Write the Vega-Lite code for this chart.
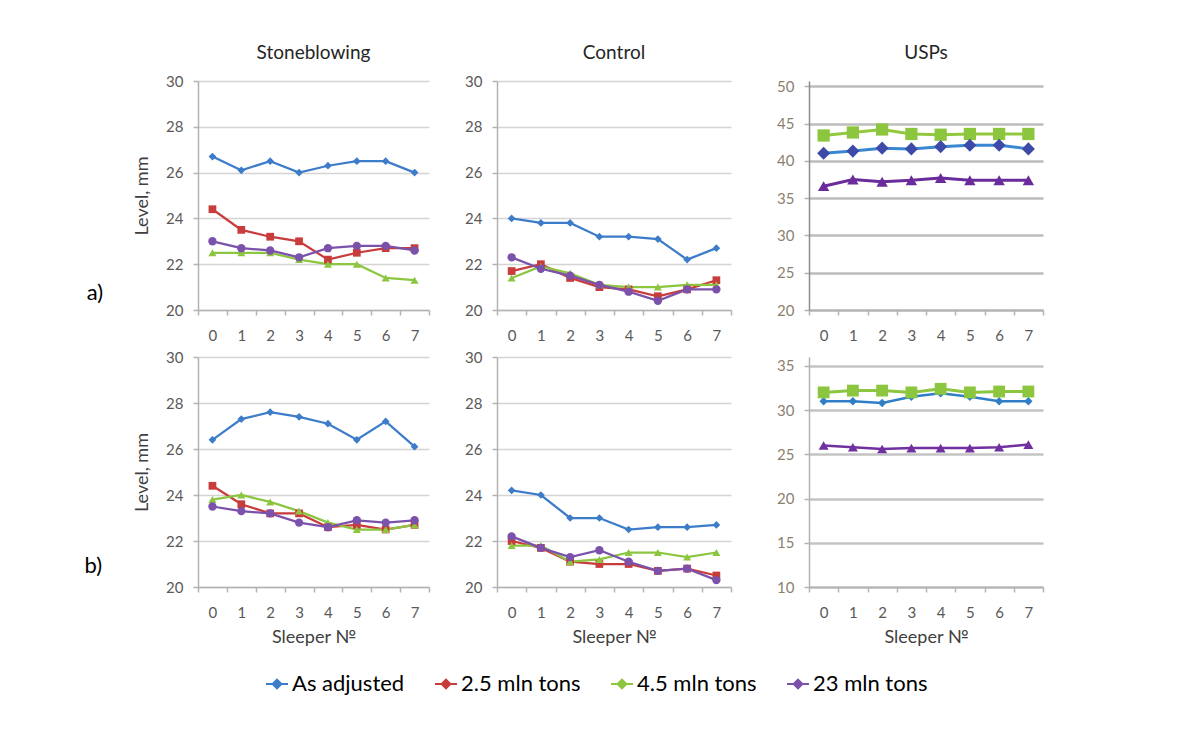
{
  "$schema": "https://vega.github.io/schema/vega-lite/v6.json",
  "padding": {"left": 84, "top": 44, "right": 10, "bottom": 10},
  "background": "white",
  "data": {"values": [
    {"row":"a","panel":"Stoneblowing","series":"As adjusted","sleeper":0,"level":26.7},
    {"row":"a","panel":"Stoneblowing","series":"As adjusted","sleeper":1,"level":26.1},
    {"row":"a","panel":"Stoneblowing","series":"As adjusted","sleeper":2,"level":26.5},
    {"row":"a","panel":"Stoneblowing","series":"As adjusted","sleeper":3,"level":26.0},
    {"row":"a","panel":"Stoneblowing","series":"As adjusted","sleeper":4,"level":26.3},
    {"row":"a","panel":"Stoneblowing","series":"As adjusted","sleeper":5,"level":26.5},
    {"row":"a","panel":"Stoneblowing","series":"As adjusted","sleeper":6,"level":26.5},
    {"row":"a","panel":"Stoneblowing","series":"As adjusted","sleeper":7,"level":26.0},
    {"row":"a","panel":"Stoneblowing","series":"2.5 mln tons","sleeper":0,"level":24.4},
    {"row":"a","panel":"Stoneblowing","series":"2.5 mln tons","sleeper":1,"level":23.5},
    {"row":"a","panel":"Stoneblowing","series":"2.5 mln tons","sleeper":2,"level":23.2},
    {"row":"a","panel":"Stoneblowing","series":"2.5 mln tons","sleeper":3,"level":23.0},
    {"row":"a","panel":"Stoneblowing","series":"2.5 mln tons","sleeper":4,"level":22.2},
    {"row":"a","panel":"Stoneblowing","series":"2.5 mln tons","sleeper":5,"level":22.5},
    {"row":"a","panel":"Stoneblowing","series":"2.5 mln tons","sleeper":6,"level":22.7},
    {"row":"a","panel":"Stoneblowing","series":"2.5 mln tons","sleeper":7,"level":22.7},
    {"row":"a","panel":"Stoneblowing","series":"4.5 mln tons","sleeper":0,"level":22.5},
    {"row":"a","panel":"Stoneblowing","series":"4.5 mln tons","sleeper":1,"level":22.5},
    {"row":"a","panel":"Stoneblowing","series":"4.5 mln tons","sleeper":2,"level":22.5},
    {"row":"a","panel":"Stoneblowing","series":"4.5 mln tons","sleeper":3,"level":22.2},
    {"row":"a","panel":"Stoneblowing","series":"4.5 mln tons","sleeper":4,"level":22.0},
    {"row":"a","panel":"Stoneblowing","series":"4.5 mln tons","sleeper":5,"level":22.0},
    {"row":"a","panel":"Stoneblowing","series":"4.5 mln tons","sleeper":6,"level":21.4},
    {"row":"a","panel":"Stoneblowing","series":"4.5 mln tons","sleeper":7,"level":21.3},
    {"row":"a","panel":"Stoneblowing","series":"23 mln tons","sleeper":0,"level":23.0},
    {"row":"a","panel":"Stoneblowing","series":"23 mln tons","sleeper":1,"level":22.7},
    {"row":"a","panel":"Stoneblowing","series":"23 mln tons","sleeper":2,"level":22.6},
    {"row":"a","panel":"Stoneblowing","series":"23 mln tons","sleeper":3,"level":22.3},
    {"row":"a","panel":"Stoneblowing","series":"23 mln tons","sleeper":4,"level":22.7},
    {"row":"a","panel":"Stoneblowing","series":"23 mln tons","sleeper":5,"level":22.8},
    {"row":"a","panel":"Stoneblowing","series":"23 mln tons","sleeper":6,"level":22.8},
    {"row":"a","panel":"Stoneblowing","series":"23 mln tons","sleeper":7,"level":22.6},

    {"row":"a","panel":"Control","series":"As adjusted","sleeper":0,"level":24.0},
    {"row":"a","panel":"Control","series":"As adjusted","sleeper":1,"level":23.8},
    {"row":"a","panel":"Control","series":"As adjusted","sleeper":2,"level":23.8},
    {"row":"a","panel":"Control","series":"As adjusted","sleeper":3,"level":23.2},
    {"row":"a","panel":"Control","series":"As adjusted","sleeper":4,"level":23.2},
    {"row":"a","panel":"Control","series":"As adjusted","sleeper":5,"level":23.1},
    {"row":"a","panel":"Control","series":"As adjusted","sleeper":6,"level":22.2},
    {"row":"a","panel":"Control","series":"As adjusted","sleeper":7,"level":22.7},
    {"row":"a","panel":"Control","series":"2.5 mln tons","sleeper":0,"level":21.7},
    {"row":"a","panel":"Control","series":"2.5 mln tons","sleeper":1,"level":22.0},
    {"row":"a","panel":"Control","series":"2.5 mln tons","sleeper":2,"level":21.4},
    {"row":"a","panel":"Control","series":"2.5 mln tons","sleeper":3,"level":21.0},
    {"row":"a","panel":"Control","series":"2.5 mln tons","sleeper":4,"level":20.9},
    {"row":"a","panel":"Control","series":"2.5 mln tons","sleeper":5,"level":20.6},
    {"row":"a","panel":"Control","series":"2.5 mln tons","sleeper":6,"level":20.9},
    {"row":"a","panel":"Control","series":"2.5 mln tons","sleeper":7,"level":21.3},
    {"row":"a","panel":"Control","series":"4.5 mln tons","sleeper":0,"level":21.4},
    {"row":"a","panel":"Control","series":"4.5 mln tons","sleeper":1,"level":21.9},
    {"row":"a","panel":"Control","series":"4.5 mln tons","sleeper":2,"level":21.6},
    {"row":"a","panel":"Control","series":"4.5 mln tons","sleeper":3,"level":21.1},
    {"row":"a","panel":"Control","series":"4.5 mln tons","sleeper":4,"level":21.0},
    {"row":"a","panel":"Control","series":"4.5 mln tons","sleeper":5,"level":21.0},
    {"row":"a","panel":"Control","series":"4.5 mln tons","sleeper":6,"level":21.1},
    {"row":"a","panel":"Control","series":"4.5 mln tons","sleeper":7,"level":21.1},
    {"row":"a","panel":"Control","series":"23 mln tons","sleeper":0,"level":22.3},
    {"row":"a","panel":"Control","series":"23 mln tons","sleeper":1,"level":21.8},
    {"row":"a","panel":"Control","series":"23 mln tons","sleeper":2,"level":21.5},
    {"row":"a","panel":"Control","series":"23 mln tons","sleeper":3,"level":21.1},
    {"row":"a","panel":"Control","series":"23 mln tons","sleeper":4,"level":20.8},
    {"row":"a","panel":"Control","series":"23 mln tons","sleeper":5,"level":20.4},
    {"row":"a","panel":"Control","series":"23 mln tons","sleeper":6,"level":20.9},
    {"row":"a","panel":"Control","series":"23 mln tons","sleeper":7,"level":20.9},

    {"row":"a","panel":"USPs","series":"4.5 mln tons","sleeper":0,"level":43.4},
    {"row":"a","panel":"USPs","series":"4.5 mln tons","sleeper":1,"level":43.8},
    {"row":"a","panel":"USPs","series":"4.5 mln tons","sleeper":2,"level":44.2},
    {"row":"a","panel":"USPs","series":"4.5 mln tons","sleeper":3,"level":43.6},
    {"row":"a","panel":"USPs","series":"4.5 mln tons","sleeper":4,"level":43.5},
    {"row":"a","panel":"USPs","series":"4.5 mln tons","sleeper":5,"level":43.6},
    {"row":"a","panel":"USPs","series":"4.5 mln tons","sleeper":6,"level":43.6},
    {"row":"a","panel":"USPs","series":"4.5 mln tons","sleeper":7,"level":43.6},
    {"row":"a","panel":"USPs","series":"As adjusted","sleeper":0,"level":41.0},
    {"row":"a","panel":"USPs","series":"As adjusted","sleeper":1,"level":41.3},
    {"row":"a","panel":"USPs","series":"As adjusted","sleeper":2,"level":41.7},
    {"row":"a","panel":"USPs","series":"As adjusted","sleeper":3,"level":41.6},
    {"row":"a","panel":"USPs","series":"As adjusted","sleeper":4,"level":41.9},
    {"row":"a","panel":"USPs","series":"As adjusted","sleeper":5,"level":42.1},
    {"row":"a","panel":"USPs","series":"As adjusted","sleeper":6,"level":42.1},
    {"row":"a","panel":"USPs","series":"As adjusted","sleeper":7,"level":41.6},
    {"row":"a","panel":"USPs","series":"23 mln tons","sleeper":0,"level":36.6},
    {"row":"a","panel":"USPs","series":"23 mln tons","sleeper":1,"level":37.5},
    {"row":"a","panel":"USPs","series":"23 mln tons","sleeper":2,"level":37.2},
    {"row":"a","panel":"USPs","series":"23 mln tons","sleeper":3,"level":37.4},
    {"row":"a","panel":"USPs","series":"23 mln tons","sleeper":4,"level":37.7},
    {"row":"a","panel":"USPs","series":"23 mln tons","sleeper":5,"level":37.4},
    {"row":"a","panel":"USPs","series":"23 mln tons","sleeper":6,"level":37.4},
    {"row":"a","panel":"USPs","series":"23 mln tons","sleeper":7,"level":37.4},

    {"row":"b","panel":"Stoneblowing","series":"As adjusted","sleeper":0,"level":26.4},
    {"row":"b","panel":"Stoneblowing","series":"As adjusted","sleeper":1,"level":27.3},
    {"row":"b","panel":"Stoneblowing","series":"As adjusted","sleeper":2,"level":27.6},
    {"row":"b","panel":"Stoneblowing","series":"As adjusted","sleeper":3,"level":27.4},
    {"row":"b","panel":"Stoneblowing","series":"As adjusted","sleeper":4,"level":27.1},
    {"row":"b","panel":"Stoneblowing","series":"As adjusted","sleeper":5,"level":26.4},
    {"row":"b","panel":"Stoneblowing","series":"As adjusted","sleeper":6,"level":27.2},
    {"row":"b","panel":"Stoneblowing","series":"As adjusted","sleeper":7,"level":26.1},
    {"row":"b","panel":"Stoneblowing","series":"2.5 mln tons","sleeper":0,"level":24.4},
    {"row":"b","panel":"Stoneblowing","series":"2.5 mln tons","sleeper":1,"level":23.6},
    {"row":"b","panel":"Stoneblowing","series":"2.5 mln tons","sleeper":2,"level":23.2},
    {"row":"b","panel":"Stoneblowing","series":"2.5 mln tons","sleeper":3,"level":23.2},
    {"row":"b","panel":"Stoneblowing","series":"2.5 mln tons","sleeper":4,"level":22.6},
    {"row":"b","panel":"Stoneblowing","series":"2.5 mln tons","sleeper":5,"level":22.7},
    {"row":"b","panel":"Stoneblowing","series":"2.5 mln tons","sleeper":6,"level":22.5},
    {"row":"b","panel":"Stoneblowing","series":"2.5 mln tons","sleeper":7,"level":22.7},
    {"row":"b","panel":"Stoneblowing","series":"4.5 mln tons","sleeper":0,"level":23.8},
    {"row":"b","panel":"Stoneblowing","series":"4.5 mln tons","sleeper":1,"level":24.0},
    {"row":"b","panel":"Stoneblowing","series":"4.5 mln tons","sleeper":2,"level":23.7},
    {"row":"b","panel":"Stoneblowing","series":"4.5 mln tons","sleeper":3,"level":23.3},
    {"row":"b","panel":"Stoneblowing","series":"4.5 mln tons","sleeper":4,"level":22.8},
    {"row":"b","panel":"Stoneblowing","series":"4.5 mln tons","sleeper":5,"level":22.5},
    {"row":"b","panel":"Stoneblowing","series":"4.5 mln tons","sleeper":6,"level":22.5},
    {"row":"b","panel":"Stoneblowing","series":"4.5 mln tons","sleeper":7,"level":22.7},
    {"row":"b","panel":"Stoneblowing","series":"23 mln tons","sleeper":0,"level":23.5},
    {"row":"b","panel":"Stoneblowing","series":"23 mln tons","sleeper":1,"level":23.3},
    {"row":"b","panel":"Stoneblowing","series":"23 mln tons","sleeper":2,"level":23.2},
    {"row":"b","panel":"Stoneblowing","series":"23 mln tons","sleeper":3,"level":22.8},
    {"row":"b","panel":"Stoneblowing","series":"23 mln tons","sleeper":4,"level":22.6},
    {"row":"b","panel":"Stoneblowing","series":"23 mln tons","sleeper":5,"level":22.9},
    {"row":"b","panel":"Stoneblowing","series":"23 mln tons","sleeper":6,"level":22.8},
    {"row":"b","panel":"Stoneblowing","series":"23 mln tons","sleeper":7,"level":22.9},

    {"row":"b","panel":"Control","series":"As adjusted","sleeper":0,"level":24.2},
    {"row":"b","panel":"Control","series":"As adjusted","sleeper":1,"level":24.0},
    {"row":"b","panel":"Control","series":"As adjusted","sleeper":2,"level":23.0},
    {"row":"b","panel":"Control","series":"As adjusted","sleeper":3,"level":23.0},
    {"row":"b","panel":"Control","series":"As adjusted","sleeper":4,"level":22.5},
    {"row":"b","panel":"Control","series":"As adjusted","sleeper":5,"level":22.6},
    {"row":"b","panel":"Control","series":"As adjusted","sleeper":6,"level":22.6},
    {"row":"b","panel":"Control","series":"As adjusted","sleeper":7,"level":22.7},
    {"row":"b","panel":"Control","series":"2.5 mln tons","sleeper":0,"level":22.0},
    {"row":"b","panel":"Control","series":"2.5 mln tons","sleeper":1,"level":21.7},
    {"row":"b","panel":"Control","series":"2.5 mln tons","sleeper":2,"level":21.1},
    {"row":"b","panel":"Control","series":"2.5 mln tons","sleeper":3,"level":21.0},
    {"row":"b","panel":"Control","series":"2.5 mln tons","sleeper":4,"level":21.0},
    {"row":"b","panel":"Control","series":"2.5 mln tons","sleeper":5,"level":20.7},
    {"row":"b","panel":"Control","series":"2.5 mln tons","sleeper":6,"level":20.8},
    {"row":"b","panel":"Control","series":"2.5 mln tons","sleeper":7,"level":20.5},
    {"row":"b","panel":"Control","series":"4.5 mln tons","sleeper":0,"level":21.8},
    {"row":"b","panel":"Control","series":"4.5 mln tons","sleeper":1,"level":21.8},
    {"row":"b","panel":"Control","series":"4.5 mln tons","sleeper":2,"level":21.1},
    {"row":"b","panel":"Control","series":"4.5 mln tons","sleeper":3,"level":21.2},
    {"row":"b","panel":"Control","series":"4.5 mln tons","sleeper":4,"level":21.5},
    {"row":"b","panel":"Control","series":"4.5 mln tons","sleeper":5,"level":21.5},
    {"row":"b","panel":"Control","series":"4.5 mln tons","sleeper":6,"level":21.3},
    {"row":"b","panel":"Control","series":"4.5 mln tons","sleeper":7,"level":21.5},
    {"row":"b","panel":"Control","series":"23 mln tons","sleeper":0,"level":22.2},
    {"row":"b","panel":"Control","series":"23 mln tons","sleeper":1,"level":21.7},
    {"row":"b","panel":"Control","series":"23 mln tons","sleeper":2,"level":21.3},
    {"row":"b","panel":"Control","series":"23 mln tons","sleeper":3,"level":21.6},
    {"row":"b","panel":"Control","series":"23 mln tons","sleeper":4,"level":21.1},
    {"row":"b","panel":"Control","series":"23 mln tons","sleeper":5,"level":20.7},
    {"row":"b","panel":"Control","series":"23 mln tons","sleeper":6,"level":20.8},
    {"row":"b","panel":"Control","series":"23 mln tons","sleeper":7,"level":20.3},

    {"row":"b","panel":"USPs","series":"4.5 mln tons","sleeper":0,"level":32.0},
    {"row":"b","panel":"USPs","series":"4.5 mln tons","sleeper":1,"level":32.2},
    {"row":"b","panel":"USPs","series":"4.5 mln tons","sleeper":2,"level":32.2},
    {"row":"b","panel":"USPs","series":"4.5 mln tons","sleeper":3,"level":32.0},
    {"row":"b","panel":"USPs","series":"4.5 mln tons","sleeper":4,"level":32.4},
    {"row":"b","panel":"USPs","series":"4.5 mln tons","sleeper":5,"level":32.0},
    {"row":"b","panel":"USPs","series":"4.5 mln tons","sleeper":6,"level":32.1},
    {"row":"b","panel":"USPs","series":"4.5 mln tons","sleeper":7,"level":32.1},
    {"row":"b","panel":"USPs","series":"As adjusted","sleeper":0,"level":31.0},
    {"row":"b","panel":"USPs","series":"As adjusted","sleeper":1,"level":31.0},
    {"row":"b","panel":"USPs","series":"As adjusted","sleeper":2,"level":30.8},
    {"row":"b","panel":"USPs","series":"As adjusted","sleeper":3,"level":31.5},
    {"row":"b","panel":"USPs","series":"As adjusted","sleeper":4,"level":31.9},
    {"row":"b","panel":"USPs","series":"As adjusted","sleeper":5,"level":31.5},
    {"row":"b","panel":"USPs","series":"As adjusted","sleeper":6,"level":31.0},
    {"row":"b","panel":"USPs","series":"As adjusted","sleeper":7,"level":31.0},
    {"row":"b","panel":"USPs","series":"23 mln tons","sleeper":0,"level":26.0},
    {"row":"b","panel":"USPs","series":"23 mln tons","sleeper":1,"level":25.8},
    {"row":"b","panel":"USPs","series":"23 mln tons","sleeper":2,"level":25.6},
    {"row":"b","panel":"USPs","series":"23 mln tons","sleeper":3,"level":25.7},
    {"row":"b","panel":"USPs","series":"23 mln tons","sleeper":4,"level":25.7},
    {"row":"b","panel":"USPs","series":"23 mln tons","sleeper":5,"level":25.7},
    {"row":"b","panel":"USPs","series":"23 mln tons","sleeper":6,"level":25.8},
    {"row":"b","panel":"USPs","series":"23 mln tons","sleeper":7,"level":26.1}
  ]},
  "spacing": 7,
  "vconcat": [
    {
      "title": {"text": "a)", "orient": "left", "angle": 0, "anchor": "start", "align": "right", "baseline": "middle", "fontSize": 22, "offset": 14, "dy": -50, "color": "#000000"},
      "spacing": 34,
      "hconcat": [
        {
          "width": 231, "height": 229,
          "title": {"text": "Stoneblowing", "offset": 11},
          "transform": [{"filter": "datum.row === 'a' && datum.panel === 'Stoneblowing'"}],
          "encoding": {
            "x": {"field": "sleeper", "type": "ordinal", "scale": {"type": "band", "paddingInner": 0, "paddingOuter": 0}, "axis": {"title": null}},
            "y": {"field": "level", "type": "quantitative", "scale": {"domain": [20, 30], "nice": false, "zero": false}, "axis": {"values": [20, 22, 24, 26, 28, 30], "title": "Level, mm", "titlePadding": 14}},
            "color": {"field": "series", "type": "nominal",
              "scale": {"domain": ["As adjusted", "2.5 mln tons", "4.5 mln tons", "23 mln tons"], "range": ["#3d7cc9", "#c83c3c", "#8cc540", "#7b52ab"]},
              "legend": {"orient": "none", "legendX": 67, "legendY": 591, "direction": "horizontal", "title": null,
                "symbolType": "M-1,0H1M0,-0.4L0.4,0L0,0.4L-0.4,0Z", "symbolSize": 484, "symbolStrokeWidth": 2,
                "labelFontSize": 22, "labelColor": "#000000", "labelFont": "Lato", "columnPadding": 26, "labelOffset": 3}}
          },
          "layer": [
            {"mark": {"type": "line", "strokeWidth": 2.25}},
            {"transform": [{"filter": "datum.series === 'As adjusted'"}], "mark": {"type": "point", "shape": "diamond", "filled": true, "opacity": 1, "size": 60}},
            {"transform": [{"filter": "datum.series === '2.5 mln tons'"}], "mark": {"type": "point", "shape": "square", "filled": true, "opacity": 1, "size": 60}},
            {"transform": [{"filter": "datum.series === '4.5 mln tons'"}], "mark": {"type": "point", "shape": "triangle-up", "filled": true, "opacity": 1, "size": 65}},
            {"transform": [{"filter": "datum.series === '23 mln tons'"}], "mark": {"type": "point", "shape": "circle", "filled": true, "opacity": 1, "size": 70}}
          ]
        },
        {
          "width": 234, "height": 229,
          "title": {"text": "Control", "offset": 11},
          "transform": [{"filter": "datum.row === 'a' && datum.panel === 'Control'"}],
          "encoding": {
            "x": {"field": "sleeper", "type": "ordinal", "scale": {"type": "band", "paddingInner": 0, "paddingOuter": 0}, "axis": {"title": null}},
            "y": {"field": "level", "type": "quantitative", "scale": {"domain": [20, 30], "nice": false, "zero": false}, "axis": {"values": [20, 22, 24, 26, 28, 30], "title": null}},
            "color": {"field": "series", "type": "nominal"}
          },
          "layer": [
            {"mark": {"type": "line", "strokeWidth": 2.25}},
            {"transform": [{"filter": "datum.series === 'As adjusted'"}], "mark": {"type": "point", "shape": "diamond", "filled": true, "opacity": 1, "size": 60}},
            {"transform": [{"filter": "datum.series === '2.5 mln tons'"}], "mark": {"type": "point", "shape": "square", "filled": true, "opacity": 1, "size": 60}},
            {"transform": [{"filter": "datum.series === '4.5 mln tons'"}], "mark": {"type": "point", "shape": "triangle-up", "filled": true, "opacity": 1, "size": 65}},
            {"transform": [{"filter": "datum.series === '23 mln tons'"}], "mark": {"type": "point", "shape": "circle", "filled": true, "opacity": 1, "size": 70}}
          ]
        },
        {
          "width": 234, "height": 229,
          "title": {"text": "USPs", "offset": 11, "dy": -5},
          "transform": [{"filter": "datum.row === 'a' && datum.panel === 'USPs'"}],
          "encoding": {
            "x": {"field": "sleeper", "type": "ordinal", "scale": {"type": "band", "paddingInner": 0, "paddingOuter": 0}, "axis": {"title": null}},
            "y": {"field": "level", "type": "quantitative", "scale": {"domain": [20, 50.7], "nice": false, "zero": false}, "axis": {"values": [20, 25, 30, 35, 40, 45, 50], "title": null, "minExtent": 43, "labelColor": "#8c7f70", "gridColor": "#bdbdbd", "gridWidth": 2.5, "domainColor": "#8c8c8c"}}
          },
          "layer": [
            {"transform": [{"filter": "datum.series === '4.5 mln tons'"}], "mark": {"type": "line", "color": "#92c83e", "strokeWidth": 3}},
            {"transform": [{"filter": "datum.series === '4.5 mln tons'"}], "mark": {"type": "point", "shape": "square", "filled": true, "opacity": 1, "color": "#8cc63f", "size": 150}},
            {"transform": [{"filter": "datum.series === 'As adjusted'"}], "mark": {"type": "line", "color": "#3b86d0", "strokeWidth": 3}},
            {"transform": [{"filter": "datum.series === 'As adjusted'"}], "mark": {"type": "point", "shape": "diamond", "filled": true, "opacity": 1, "color": "#3d4aa8", "size": 170}},
            {"transform": [{"filter": "datum.series === '23 mln tons'"}], "mark": {"type": "line", "color": "#6a2c9a", "strokeWidth": 3}},
            {"transform": [{"filter": "datum.series === '23 mln tons'"}], "mark": {"type": "point", "shape": "triangle-up", "filled": true, "opacity": 1, "color": "#6a2c9a", "size": 130}}
          ]
        }
      ]
    },
    {
      "title": {"text": "b)", "orient": "left", "angle": 0, "anchor": "start", "align": "right", "baseline": "middle", "fontSize": 22, "offset": 14, "dy": -80, "color": "#000000"},
      "spacing": 34,
      "hconcat": [
        {
          "width": 231, "height": 230,
          "transform": [{"filter": "datum.row === 'b' && datum.panel === 'Stoneblowing'"}],
          "encoding": {
            "x": {"field": "sleeper", "type": "ordinal", "scale": {"type": "band", "paddingInner": 0, "paddingOuter": 0}, "axis": {"title": "Sleeper №"}},
            "y": {"field": "level", "type": "quantitative", "scale": {"domain": [20, 30], "nice": false, "zero": false}, "axis": {"values": [20, 22, 24, 26, 28, 30], "title": "Level, mm", "titlePadding": 14}},
            "color": {"field": "series", "type": "nominal"}
          },
          "layer": [
            {"mark": {"type": "line", "strokeWidth": 2.25}},
            {"transform": [{"filter": "datum.series === 'As adjusted'"}], "mark": {"type": "point", "shape": "diamond", "filled": true, "opacity": 1, "size": 60}},
            {"transform": [{"filter": "datum.series === '2.5 mln tons'"}], "mark": {"type": "point", "shape": "square", "filled": true, "opacity": 1, "size": 60}},
            {"transform": [{"filter": "datum.series === '4.5 mln tons'"}], "mark": {"type": "point", "shape": "triangle-up", "filled": true, "opacity": 1, "size": 65}},
            {"transform": [{"filter": "datum.series === '23 mln tons'"}], "mark": {"type": "point", "shape": "circle", "filled": true, "opacity": 1, "size": 70}}
          ]
        },
        {
          "width": 234, "height": 230,
          "transform": [{"filter": "datum.row === 'b' && datum.panel === 'Control'"}],
          "encoding": {
            "x": {"field": "sleeper", "type": "ordinal", "scale": {"type": "band", "paddingInner": 0, "paddingOuter": 0}, "axis": {"title": "Sleeper №"}},
            "y": {"field": "level", "type": "quantitative", "scale": {"domain": [20, 30], "nice": false, "zero": false}, "axis": {"values": [20, 22, 24, 26, 28, 30], "title": null}},
            "color": {"field": "series", "type": "nominal"}
          },
          "layer": [
            {"mark": {"type": "line", "strokeWidth": 2.25}},
            {"transform": [{"filter": "datum.series === 'As adjusted'"}], "mark": {"type": "point", "shape": "diamond", "filled": true, "opacity": 1, "size": 60}},
            {"transform": [{"filter": "datum.series === '2.5 mln tons'"}], "mark": {"type": "point", "shape": "square", "filled": true, "opacity": 1, "size": 60}},
            {"transform": [{"filter": "datum.series === '4.5 mln tons'"}], "mark": {"type": "point", "shape": "triangle-up", "filled": true, "opacity": 1, "size": 65}},
            {"transform": [{"filter": "datum.series === '23 mln tons'"}], "mark": {"type": "point", "shape": "circle", "filled": true, "opacity": 1, "size": 70}}
          ]
        },
        {
          "width": 234, "height": 230,
          "transform": [{"filter": "datum.row === 'b' && datum.panel === 'USPs'"}],
          "encoding": {
            "x": {"field": "sleeper", "type": "ordinal", "scale": {"type": "band", "paddingInner": 0, "paddingOuter": 0}, "axis": {"title": "Sleeper №"}},
            "y": {"field": "level", "type": "quantitative", "scale": {"domain": [10, 36], "nice": false, "zero": false}, "axis": {"values": [10, 15, 20, 25, 30, 35], "title": null, "minExtent": 43, "labelColor": "#8c7f70", "gridColor": "#c4c4c4", "gridWidth": 2.5, "domainColor": "#b3b3b3"}}
          },
          "layer": [
            {"transform": [{"filter": "datum.series === 'As adjusted'"}], "mark": {"type": "line", "color": "#2f7ec6", "strokeWidth": 2.5}},
            {"transform": [{"filter": "datum.series === 'As adjusted'"}], "mark": {"type": "point", "shape": "diamond", "filled": true, "opacity": 1, "color": "#2f7ec6", "size": 70}},
            {"transform": [{"filter": "datum.series === '4.5 mln tons'"}], "mark": {"type": "line", "color": "#8cc63f", "strokeWidth": 3}},
            {"transform": [{"filter": "datum.series === '4.5 mln tons'"}], "mark": {"type": "point", "shape": "square", "filled": true, "opacity": 1, "color": "#8cc63f", "size": 140}},
            {"transform": [{"filter": "datum.series === '23 mln tons'"}], "mark": {"type": "line", "color": "#7030a0", "strokeWidth": 2.5}},
            {"transform": [{"filter": "datum.series === '23 mln tons'"}], "mark": {"type": "point", "shape": "triangle-up", "filled": true, "opacity": 1, "color": "#7030a0", "size": 100}}
          ]
        }
      ]
    }
  ],
  "config": {
    "font": "Lato",
    "view": {"stroke": null},
    "title": {"font": "Lato", "fontSize": 19, "fontWeight": "normal", "color": "#262626"},
    "axis": {"labelFont": "Lato", "labelFontSize": 15, "labelColor": "#595959", "titleFont": "Lato", "titleFontWeight": "normal", "titleFontSize": 18, "titleColor": "#404040",
      "domainColor": "#b3b3b3", "tickColor": "#b3b3b3", "gridColor": "#d4d4d4", "gridWidth": 1.5, "domainWidth": 1.5, "tickWidth": 1.5, "tickSize": 5},
    "axisX": {"grid": false, "labelAngle": 0, "labelPadding": 13, "tickBand": "extent", "titlePadding": 8},
    "axisY": {"grid": true, "labelPadding": 10}
  }
}
